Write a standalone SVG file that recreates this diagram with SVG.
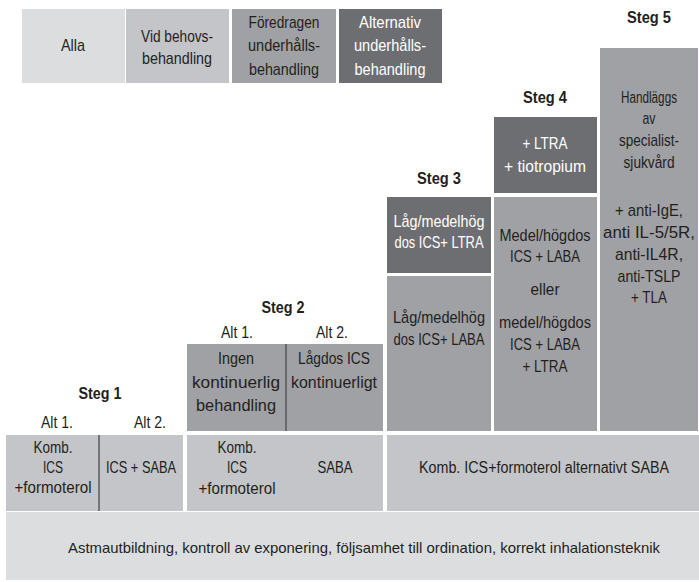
<svg xmlns="http://www.w3.org/2000/svg" width="699" height="582" viewBox="0 0 699 582">
<style>
text{font-family:"Liberation Sans",Arial,sans-serif;font-size:17px;fill:#231f20;text-anchor:middle}
.w{fill:#ffffff}
.b{font-weight:bold}
.s16{font-size:16px}
.s15{font-size:15px}
.c1{fill:#dcdddf}.c2{fill:#c4c5c8}.c3{fill:#a0a1a5}.c4{fill:#6d6e71}
.dv{stroke:#58595b;stroke-width:1.5}
</style>
<rect width="699" height="582" fill="#ffffff"/>
<g id="legend">
<g id="alla"><rect class="c1" x="22" y="9" width="103" height="74"/><text x="73" y="51" textLength="24" lengthAdjust="spacingAndGlyphs">Alla</text></g>
<g id="vidbehov"><rect class="c2" x="126" y="9" width="103" height="74"/><text x="177" y="42" textLength="72" lengthAdjust="spacingAndGlyphs">Vid behovs-</text><text x="177" y="64" textLength="70" lengthAdjust="spacingAndGlyphs">behandling</text></g>
<g id="foredragen"><rect class="c3" x="232" y="9" width="104" height="74"/><text x="284" y="28" textLength="71" lengthAdjust="spacingAndGlyphs">Föredragen</text><text x="284" y="51" textLength="72" lengthAdjust="spacingAndGlyphs">underhålls-</text><text x="284" y="75" textLength="70" lengthAdjust="spacingAndGlyphs">behandling</text></g>
<g id="alternativ"><rect class="c4" x="339" y="9" width="103" height="74"/><text class="w" x="390" y="28" textLength="62" lengthAdjust="spacingAndGlyphs">Alternativ</text><text class="w" x="390" y="51" textLength="72" lengthAdjust="spacingAndGlyphs">underhålls-</text><text class="w" x="390" y="75" textLength="71" lengthAdjust="spacingAndGlyphs">behandling</text></g>
</g>
<g id="steg5">
<text class="b" x="649" y="23" textLength="44" lengthAdjust="spacingAndGlyphs">Steg 5</text>
<rect class="c3" x="600" y="48" width="98" height="383"/>
<text class="s16" x="649" y="103" textLength="56" lengthAdjust="spacingAndGlyphs">Handläggs</text>
<text x="649" y="124" textLength="13" lengthAdjust="spacingAndGlyphs">av</text>
<text x="649" y="146" textLength="60" lengthAdjust="spacingAndGlyphs">specialist-</text>
<text x="649" y="168" textLength="51" lengthAdjust="spacingAndGlyphs">sjukvård</text>
<text x="649" y="216" textLength="68" lengthAdjust="spacingAndGlyphs">+ anti-IgE,</text>
<text x="649" y="238" textLength="92" lengthAdjust="spacingAndGlyphs">anti IL-5/5R,</text>
<text x="649" y="260" textLength="68" lengthAdjust="spacingAndGlyphs">anti-IL4R,</text>
<text x="649" y="282" textLength="63" lengthAdjust="spacingAndGlyphs">anti-TSLP</text>
<text x="649" y="303" textLength="36" lengthAdjust="spacingAndGlyphs">+ TLA</text>
</g>
<g id="steg4">
<text class="b" x="545" y="103" textLength="44" lengthAdjust="spacingAndGlyphs">Steg 4</text>
<rect class="c4" x="494" y="117" width="103" height="76"/>
<text class="w" x="545" y="149" textLength="45" lengthAdjust="spacingAndGlyphs">+ LTRA</text>
<text class="w" x="545" y="172" textLength="82" lengthAdjust="spacingAndGlyphs">+ tiotropium</text>
<rect class="c3" x="494" y="197" width="103" height="234"/>
<text x="545" y="241" textLength="91" lengthAdjust="spacingAndGlyphs">Medel/högdos</text>
<text x="545" y="262" textLength="70" lengthAdjust="spacingAndGlyphs">ICS + LABA</text>
<text x="545" y="295" textLength="29" lengthAdjust="spacingAndGlyphs">eller</text>
<text x="545" y="328" textLength="92" lengthAdjust="spacingAndGlyphs">medel/högdos</text>
<text x="545" y="350" textLength="70" lengthAdjust="spacingAndGlyphs">ICS + LABA</text>
<text x="545" y="372" textLength="45" lengthAdjust="spacingAndGlyphs">+ LTRA</text>
</g>
<g id="steg3">
<text class="b" x="439" y="184" textLength="44" lengthAdjust="spacingAndGlyphs">Steg 3</text>
<rect class="c4" x="387" y="197" width="104" height="76"/>
<text class="w" x="439" y="227" textLength="91" lengthAdjust="spacingAndGlyphs">Låg/medelhög</text>
<text class="w" x="439" y="248" textLength="89" lengthAdjust="spacingAndGlyphs">dos ICS+ LTRA</text>
<rect class="c3" x="387" y="276" width="104" height="155"/>
<text x="439" y="323" textLength="92" lengthAdjust="spacingAndGlyphs">Låg/medelhög</text>
<text x="439" y="345" textLength="91" lengthAdjust="spacingAndGlyphs">dos ICS+ LABA</text>
</g>
<g id="steg2">
<text class="b" x="283" y="313" textLength="43" lengthAdjust="spacingAndGlyphs">Steg 2</text>
<text x="237" y="338" textLength="32" lengthAdjust="spacingAndGlyphs">Alt 1.</text>
<text x="332" y="338" textLength="32" lengthAdjust="spacingAndGlyphs">Alt 2.</text>
<rect class="c3" x="187" y="344" width="196" height="87"/>
<text x="236" y="364" textLength="36" lengthAdjust="spacingAndGlyphs">Ingen</text>
<text x="236" y="388" textLength="88" lengthAdjust="spacingAndGlyphs">kontinuerlig</text>
<text x="236" y="411" textLength="80" lengthAdjust="spacingAndGlyphs">behandling</text>
<text x="334" y="364" textLength="72" lengthAdjust="spacingAndGlyphs">Lågdos ICS</text>
<text x="334" y="388" textLength="86" lengthAdjust="spacingAndGlyphs">kontinuerligt</text>
</g>
<g id="steg1">
<text class="b" x="100" y="399" textLength="43" lengthAdjust="spacingAndGlyphs">Steg 1</text>
<text x="57" y="428" textLength="32" lengthAdjust="spacingAndGlyphs">Alt 1.</text>
<text x="150" y="428" textLength="32" lengthAdjust="spacingAndGlyphs">Alt 2.</text>
</g>
<g id="akut1"><rect class="c2" x="6" y="435" width="177" height="76"/>
<text x="53" y="453" textLength="39" lengthAdjust="spacingAndGlyphs">Komb.</text>
<text x="53" y="473" textLength="20" lengthAdjust="spacingAndGlyphs">ICS</text>
<text x="53" y="493" textLength="77" lengthAdjust="spacingAndGlyphs">+formoterol</text>
<text x="141" y="473" textLength="70" lengthAdjust="spacingAndGlyphs">ICS + SABA</text></g>
<g id="akut2"><rect class="c2" x="187" y="435" width="196" height="76"/>
<text x="237" y="453" textLength="39" lengthAdjust="spacingAndGlyphs">Komb.</text>
<text x="237" y="473" textLength="20" lengthAdjust="spacingAndGlyphs">ICS</text>
<text x="237" y="494" textLength="77" lengthAdjust="spacingAndGlyphs">+formoterol</text>
<text x="335" y="473" textLength="35" lengthAdjust="spacingAndGlyphs">SABA</text></g>
<g id="akut3"><rect class="c2" x="387" y="435" width="312" height="76"/>
<text class="s16" x="544" y="473" textLength="250" lengthAdjust="spacingAndGlyphs">Komb. ICS+formoterol alternativt SABA</text></g>
<g id="bas"><rect class="c1" x="6" y="512" width="693" height="68"/>
<text class="s15" x="364" y="553" textLength="592" lengthAdjust="spacingAndGlyphs">Astmautbildning, kontroll av exponering, följsamhet till ordination, korrekt inhalationsteknik</text></g>
<g id="connectors">
<line class="dv" x1="286" y1="344" x2="286" y2="431"/>
<line class="dv" x1="99" y1="435" x2="99" y2="511"/>
</g>
</svg>
